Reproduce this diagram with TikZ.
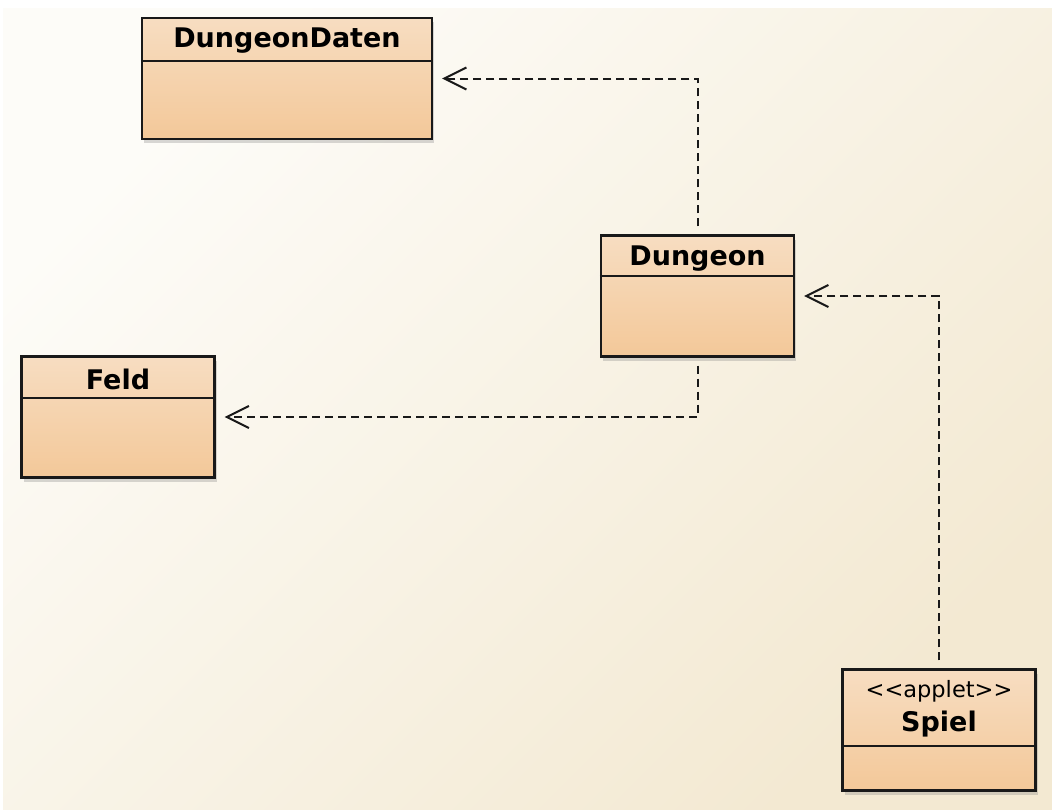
\documentclass[tikz,border=0pt]{standalone}
\usepackage{fontspec}
\setmainfont{DejaVu Sans}
\usetikzlibrary{arrows.meta,shadows}

\definecolor{bgLight}{HTML}{FDFCF8}
\definecolor{bgDark}{HTML}{F3E9D2}
\definecolor{classTop}{HTML}{F7DDC1}
\definecolor{classBot}{HTML}{F3C899}

\begin{document}
\begin{tikzpicture}[x=1pt,y=-1pt,
    class/.style={draw=black!90,line width=2.4pt,inner sep=0pt,
      top color=classTop,bottom color=classBot,
      drop shadow={shadow xshift=2pt,shadow yshift=-4pt,opacity=0.3}},
    small class/.style={class,minimum width=193pt,minimum height=121pt},
    class name/.style={font=\fontsize{27}{31}\selectfont\bfseries,inner sep=0pt},
    stereo/.style={font=\fontsize{22.5}{26}\selectfont,inner sep=0pt},
    divider/.style={line width=2.2pt,black!90},
    dep/.style={dash pattern=on 8pt off 5pt,line width=2pt,black!90,
      -{Straight Barb[length=22pt,width=22pt,line width=2pt]},
      shorten <=8pt,shorten >=9pt}
    ]

  % background
  \useasboundingbox (0,0) rectangle (1052,809);
  \fill[white] (0,0) rectangle (1052,809);
  \shade[top color=bgLight,bottom color=bgDark,shading angle=45] (3,8) rectangle (1052,809);

  % classes
  \node[class,minimum width=290pt,minimum height=121pt] (daten) at (287,78.5) {};
  \node[small class] (dungeon) at (697.5,296) {};
  \node[small class] (feld)    at (118,417) {};
  \node[small class] (spiel)   at (939,730) {};

  \node[class name] (daten-name)   at ([yshift=-24pt]daten.north)   {DungeonDaten};
  \node[class name] (dungeon-name) at ([yshift=-24pt]dungeon.north) {Dungeon};
  \node[class name] (feld-name)    at ([yshift=-24pt]feld.north)    {Feld};
  \node[stereo]     (spiel-stereo) at ([yshift=-23pt]spiel.north)   {<{}<applet>{}>};
  \node[class name] (spiel-name)   at ([yshift=-56pt]spiel.north)   {Spiel};

  \draw[divider] ([yshift=-44pt]daten.north west)   -- ([yshift=-44pt]daten.north east);
  \draw[divider] ([yshift=-42pt]dungeon.north west) -- ([yshift=-42pt]dungeon.north east);
  \draw[divider] ([yshift=-43pt]feld.north west)    -- ([yshift=-43pt]feld.north east);
  \draw[divider] ([yshift=-78pt]spiel.north west)   -- ([yshift=-78pt]spiel.north east);

  % dependencies
  \draw[dep] (dungeon.north) |- (daten.east);
  \draw[dep] (dungeon.south) |- (feld.east);
  \draw[dep] (spiel.north)   |- (dungeon.east);

\end{tikzpicture}
\end{document}
